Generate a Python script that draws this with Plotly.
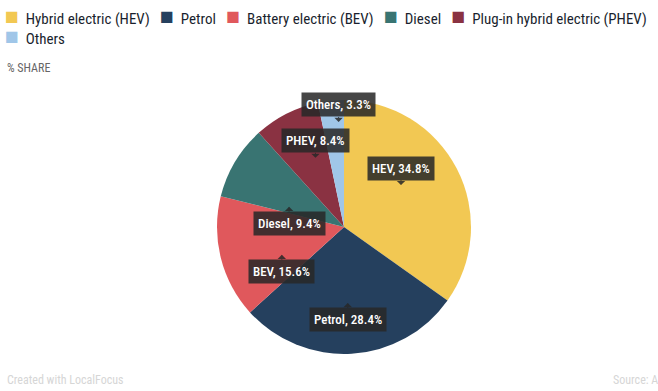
import math
import plotly.graph_objects as go

# ---- data ----
categories = ["Hybrid electric (HEV)", "Petrol", "Battery electric (BEV)", "Diesel",
              "Plug-in hybrid electric (PHEV)", "Others"]
short_labels = ["HEV", "Petrol", "BEV", "Diesel", "PHEV", "Others"]
shares = [34.8, 28.4, 15.6, 9.4, 8.4, 3.3]

# ---- style ----
colors = ["#f2c853", "#25405e", "#e0585c", "#397472", "#8a3242", "#a0c6e8"]
# label pointer placement: angle offset from slice middle (deg), radius fraction
label_dtheta = [-9.0, 0.6, -9.9, -10.6, 4.6, 3.0]
label_radius = [0.557, 0.599, 0.536, 0.461, 0.589, 0.828]
legend_rows = [[0, 1, 2, 3, 4], [5]]
FONT = "Roboto Condensed, Roboto, sans-serif"
BOX = "rgba(40,40,40,0.86)"

W, H = 658, 391
M_L, M_R, M_T, M_B = 0, 0, 100, 37
PW, PH = W - M_L - M_R, H - M_T - M_B
CX_PX = 344
dom_half = 0.32
dom_x = [CX_PX / W - dom_half, CX_PX / W + dom_half]


def px_x(px):
    return (px - M_L) / PW


def px_y(py):
    return 1 - (py - M_T) / PH


fig = go.Figure(go.Pie(
    labels=categories, values=shares, sort=False, direction="clockwise", rotation=0,
    marker=dict(colors=colors, line=dict(width=0)), textinfo="none", hoverinfo="label+percent",
    domain=dict(x=dom_x, y=[0, 1]), showlegend=False,
))

# pie geometry derived from the domain
R = min((dom_x[1] - dom_x[0]) * PW, PH) / 2
cx = (dom_x[0] + dom_x[1]) / 2 * PW + M_L
cy = M_T + PH / 2

annotations = []
total = sum(shares)
cum = 0.0
for name, v, dt, rf in zip(short_labels, shares, label_dtheta, label_radius):
    mid_deg = (cum + v / 2) / total * 360
    cum += v
    ang = math.radians(mid_deg + dt)
    tx = cx + rf * R * math.sin(ang)
    ty = cy - rf * R * math.cos(ang)
    box_below = 90 < mid_deg < 315
    annotations.append(dict(
        x=px_x(tx), y=px_y(ty), xref="paper", yref="paper",
        text=f"{name}, {v}%", showarrow=True, ax=0, ay=17 if box_below else -17,
        axref="pixel", ayref="pixel",
        arrowhead=1, arrowsize=1.4, arrowwidth=1, arrowcolor=BOX,
        bgcolor=BOX, borderpad=4,
        font=dict(family=FONT, size=13, color="white", weight=500),
    ))

# legend built from categories and colors
def legend_row(idx):
    parts = []
    for i in idx:
        parts.append(f"<span style='color:{colors[i]};font-size:23px'>■</span>"
                     f"\u00a0\u00a0{categories[i]}")
    return "\u00a0\u00a0\u00a0".join(parts)

annotations.append(dict(
    x=px_x(3), y=px_y(26.5), xref="paper", yref="paper", xanchor="left", yanchor="middle",
    text="<br>".join(legend_row(r) for r in legend_rows), showarrow=False, align="left",
    font=dict(family=FONT, size=15, color="#1a1f2e"),
))

annotations.append(dict(x=px_x(5), y=px_y(68), xref="paper", yref="paper", xanchor="left",
                        yanchor="middle", text="% SHARE", showarrow=False,
                        font=dict(family=FONT, size=12, color="#666666")))
annotations.append(dict(x=px_x(5), y=px_y(380), xref="paper", yref="paper", xanchor="left",
                        yanchor="middle", text="Created with LocalFocus", showarrow=False,
                        font=dict(family=FONT, size=12, color="#d6d6d6")))
annotations.append(dict(x=px_x(611), y=px_y(380), xref="paper", yref="paper", xanchor="left",
                        yanchor="middle", text="Source: ACEA", showarrow=False,
                        font=dict(family=FONT, size=12, color="#d6d6d6")))

fig.update_layout(
    width=W, height=H, margin=dict(l=M_L, r=M_R, t=M_T, b=M_B),
    paper_bgcolor="white", plot_bgcolor="white",
    annotations=annotations, font=dict(family=FONT),
)

fig.write_html("out.html")
